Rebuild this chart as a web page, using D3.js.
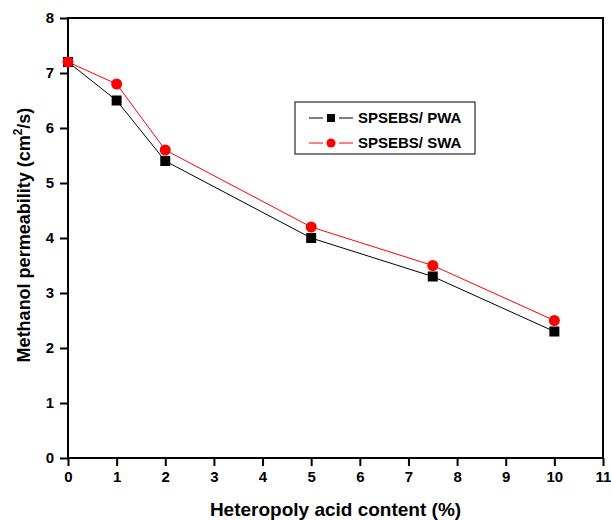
<!DOCTYPE html>
<html>
<head>
<meta charset="utf-8">
<script src="https://cdn.jsdelivr.net/npm/d3@7"></script>
<style>
  body { margin: 0; background: #fff; }
  text { font-family: "Liberation Sans", Arial, sans-serif; font-weight: bold; }
</style>
</head>
<body>
<div id="chart"></div>
<script>
// acid content (%) on x, permeability on y
const acidContent = [0, 1, 2, 5, 7.5, 10];
const pwaValues = [7.2, 6.5, 5.4, 4.0, 3.3, 2.3];
const swaValues = [7.2, 6.8, 5.6, 4.2, 3.5, 2.5];
const seriesNames = ["SPSEBS/ PWA", "SPSEBS/ SWA"];
const xTicks = d3.range(0, 12);
const yTicks = d3.range(0, 9);

const width = 611, height = 520;
const margin = {top: 18, right: 8, bottom: 62, left: 68};
const w = width - margin.left - margin.right;
const h = height - margin.top - margin.bottom;

const svg = d3.select("#chart").append("svg")
    .attr("width", width)
    .attr("height", height);

const g = svg.append("g")
    .attr("transform", `translate(${margin.left},${margin.top})`);

const x = d3.scaleLinear().domain([0, 11]).range([0, w]);
const y = d3.scaleLinear().domain([0, 8]).range([h, 0]);

// axes
const xAxis = g.append("g")
    .attr("transform", `translate(0,${h})`)
    .call(d3.axisBottom(x).tickValues(xTicks).tickSize(8).tickPadding(5).tickFormat(d3.format("d")));
const yAxis = g.append("g")
    .call(d3.axisLeft(y).tickValues(yTicks).tickSize(8).tickPadding(6).tickFormat(d3.format("d")));

[xAxis, yAxis].forEach(a => {
    a.select(".domain").remove();
    a.selectAll("line").attr("stroke", "#000").attr("stroke-width", 2);
    a.selectAll("text").attr("font-size", 15).attr("fill", "#000");
});

// frame
g.append("rect")
    .attr("width", w)
    .attr("height", h)
    .attr("fill", "none")
    .attr("stroke", "#000")
    .attr("stroke-width", 2);

// axis titles
svg.append("text")
    .attr("x", margin.left + w / 2)
    .attr("y", 516)
    .attr("text-anchor", "middle")
    .attr("font-size", 19)
    .text("Heteropoly acid content (%)");

const yTitle = svg.append("text")
    .attr("transform", `translate(30,${margin.top + h / 2 - 3}) rotate(-90)`)
    .attr("text-anchor", "middle")
    .attr("font-size", 18);
yTitle.append("tspan").text("Methanol permeability (cm");
yTitle.append("tspan").attr("dy", -8).attr("font-size", 12).text("2");
yTitle.append("tspan").attr("dy", 8).text("/s)");

const line = d3.line()
    .x(d => x(d[0]))
    .y(d => y(d[1]));

const pwa = acidContent.map((v, i) => [v, pwaValues[i]]);
const swa = acidContent.map((v, i) => [v, swaValues[i]]);

g.append("path")
    .datum(pwa)
    .attr("d", line)
    .attr("fill", "none")
    .attr("stroke", "#000")
    .attr("stroke-width", 1);

g.append("path")
    .datum(swa)
    .attr("d", line)
    .attr("fill", "none")
    .attr("stroke", "#ff0000")
    .attr("stroke-width", 1);

g.selectAll(".sq")
    .data(pwa)
    .enter().append("rect")
    .attr("class", "sq")
    .attr("x", d => x(d[0]) - 5)
    .attr("y", d => y(d[1]) - 5)
    .attr("width", 10)
    .attr("height", 10)
    .attr("fill", "#000");

g.selectAll(".dot")
    .data(swa)
    .enter().append("circle")
    .attr("class", "dot")
    .attr("cx", d => x(d[0]))
    .attr("cy", d => y(d[1]))
    .attr("r", 5.5)
    .attr("fill", "#ff0000");

// legend
const legend = svg.append("g").attr("transform", "translate(295,102)");
legend.append("rect")
    .attr("width", 180)
    .attr("height", 52)
    .attr("fill", "#fff")
    .attr("stroke", "#000")
    .attr("stroke-width", 1);

const colors = ["#000", "#ff0000"];
seriesNames.forEach((name, i) => {
    const row = legend.append("g").attr("transform", `translate(0,${16 + i * 25})`);
    // line pieces either side of the marker, with a small gap
    [[14, 28], [44, 58]].forEach(s => {
        row.append("line")
            .attr("x1", s[0]).attr("x2", s[1])
            .attr("stroke", colors[i]).attr("stroke-width", 1);
    });
    if (i === 0) {
        row.append("rect").attr("x", 32).attr("y", -4).attr("width", 8).attr("height", 8).attr("fill", "#000");
    } else {
        row.append("circle").attr("cx", 36).attr("r", 4.5).attr("fill", "#ff0000");
    }
    row.append("text")
        .attr("x", 63)
        .attr("dy", "0.35em")
        .attr("font-size", 15)
        .text(name);
});
</script>
</body>
</html>
